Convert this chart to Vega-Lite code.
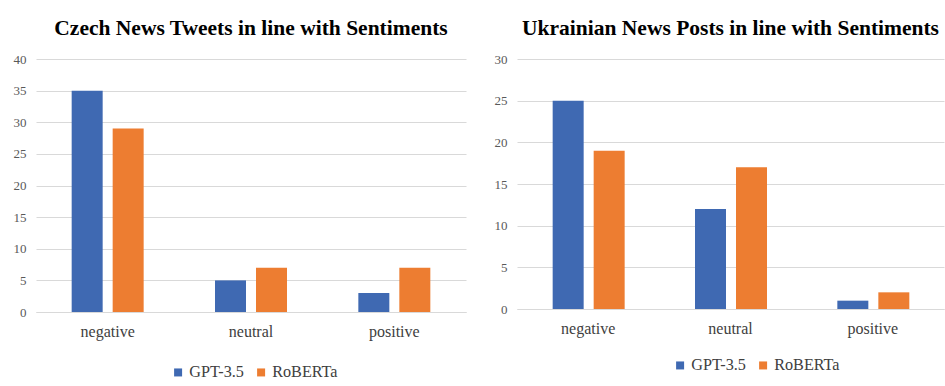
{
  "$schema": "https://vega.github.io/schema/vega-lite/v6.json",
  "background": "white",
  "padding": {"left": 13, "top": 17, "right": 5, "bottom": 5},
  "spacing": 28,
  "datasets": {
    "czech": [
      {"sentiment": "negative", "model": "GPT-3.5", "count": 35},
      {"sentiment": "negative", "model": "RoBERTa", "count": 29},
      {"sentiment": "neutral", "model": "GPT-3.5", "count": 5},
      {"sentiment": "neutral", "model": "RoBERTa", "count": 7},
      {"sentiment": "positive", "model": "GPT-3.5", "count": 3},
      {"sentiment": "positive", "model": "RoBERTa", "count": 7}
    ],
    "ukr": [
      {"sentiment": "negative", "model": "GPT-3.5", "count": 25},
      {"sentiment": "negative", "model": "RoBERTa", "count": 19},
      {"sentiment": "neutral", "model": "GPT-3.5", "count": 12},
      {"sentiment": "neutral", "model": "RoBERTa", "count": 17},
      {"sentiment": "positive", "model": "GPT-3.5", "count": 1},
      {"sentiment": "positive", "model": "RoBERTa", "count": 2}
    ]
  },
  "resolve": {"scale": {"color": "independent"}, "legend": {"color": "independent"}},
  "hconcat": [
    {
      "data": {"name": "czech"},
      "width": 430,
      "height": 253,
      "title": {"text": "Czech News Tweets in line with Sentiments"},
      "mark": {"type": "bar"},
      "encoding": {
        "x": {"field": "sentiment", "type": "nominal", "title": null,
              "scale": {"paddingInner": 0, "paddingOuter": 0}},
        "xOffset": {"field": "model", "type": "nominal",
                    "scale": {"paddingInner": 0.244, "paddingOuter": 0.87}},
        "y": {"field": "count", "type": "quantitative", "title": null,
              "scale": {"domain": [0, 40]}, "axis": {"values": [0, 5, 10, 15, 20, 25, 30, 35, 40]}},
        "color": {"field": "model", "type": "nominal", "title": null,
                  "scale": {"domain": ["GPT-3.5", "RoBERTa"], "range": ["#3F69B2", "#ED7D31"]},
                  "legend": {"orient": "none", "direction": "horizontal", "legendX": 134, "legendY": 305}}
      }
    },
    {
      "data": {"name": "ukr"},
      "width": 427,
      "height": 250,
      "title": {"text": "Ukrainian News Posts in line with Sentiments"},
      "mark": {"type": "bar"},
      "encoding": {
        "x": {"field": "sentiment", "type": "nominal", "title": null,
              "scale": {"paddingInner": 0, "paddingOuter": 0}},
        "xOffset": {"field": "model", "type": "nominal",
                    "scale": {"paddingInner": 0.244, "paddingOuter": 0.87}},
        "y": {"field": "count", "type": "quantitative", "title": null,
              "scale": {"domain": [0, 30]}, "axis": {"values": [0, 5, 10, 15, 20, 25, 30]}},
        "color": {"field": "model", "type": "nominal", "title": null,
                  "scale": {"domain": ["GPT-3.5", "RoBERTa"], "range": ["#3F69B2", "#ED7D31"]},
                  "legend": {"orient": "none", "direction": "horizontal", "legendX": 155, "legendY": 298}}
      }
    }
  ],
  "config": {
    "font": "Liberation Serif",
    "view": {"stroke": null},
    "title": {"font": "Liberation Serif", "fontSize": 21.5, "fontWeight": "bold", "color": "#000000", "offset": 14, "anchor": "middle"},
    "axisY": {"domain": false, "ticks": false, "labelFont": "Liberation Serif", "labelFontSize": 13, "labelColor": "#595959", "labelPadding": 10, "gridColor": "#D9D9D9", "gridWidth": 1},
    "axisX": {"domain": true, "domainColor": "#D9D9D9", "ticks": false, "labelFont": "Liberation Serif", "labelFontSize": 16, "labelColor": "#404040", "labelPadding": 11, "labelAngle": 0, "grid": false},
    "legend": {"labelFont": "Liberation Serif", "labelFontSize": 16.2, "labelColor": "#404040", "symbolType": "square", "symbolSize": 64, "symbolStrokeWidth": 0, "columnPadding": 9, "labelOffset": 3}
  }
}
